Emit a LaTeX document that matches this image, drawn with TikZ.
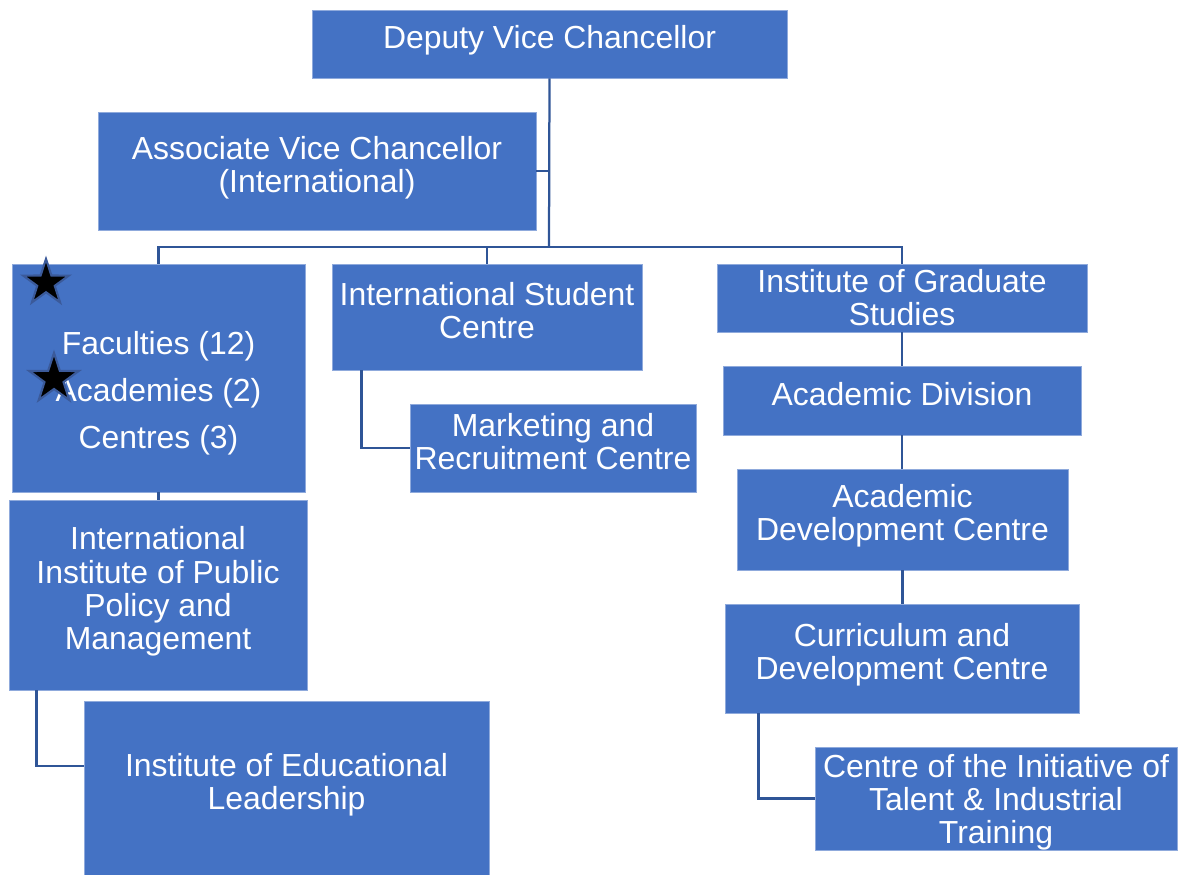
\documentclass[tikz,border=0pt]{standalone}
\usepackage{fontspec}
\setmainfont{Liberation Sans}
\usetikzlibrary{shapes.geometric}

\definecolor{unitblue}{HTML}{4472C4}
\definecolor{unitrim}{HTML}{8FAADC}
\definecolor{linkblue}{HTML}{2F5597}
\definecolor{starrim}{HTML}{3B5A9A}

\tikzset{
    unit/.style={rectangle, fill=unitblue, draw=unitrim, line width=0.6pt,
        text=white, align=center, inner sep=0pt, text depth=10pt,
        font=\fontsize{22.7}{23.5}\selectfont},
    link/.style={draw=linkblue, line width=1.6pt},
    starmark/.style={star, star points=5, star point ratio=2.6, fill=black,
        draw=starrim, line width=1.5pt, inner sep=0pt}
}

\begin{document}
\begin{tikzpicture}[x=0.025cm, y=-0.025cm]
    \useasboundingbox (0,0) rectangle (1192,875);

    \node [unit, minimum width=11.875cm, minimum height=1.7cm] (dvc) at (549.5,44) {Deputy Vice Chancellor};
    \node [unit, minimum width=10.95cm, minimum height=2.95cm] (avc) at (317,171) {Associate Vice Chancellor\\(International)};

    \node [unit, minimum width=7.325cm, minimum height=5.7cm, text depth=0pt,
        font=\fontsize{22.7}{33.4}\selectfont] (fac) at (158.5,378)
        {\mbox{}\\Faculties (12)\\Academies (2)\\Centres (3)};
    \node [unit, minimum width=7.45cm, minimum height=4.75cm] (iipp) at (158,595) {International\\Institute of Public\\Policy and\\Management};
    \node [unit, minimum width=10.125cm, minimum height=4.35cm] (iel) at (286.5,788) {Institute of Educational\\Leadership};

    \node [unit, minimum width=7.75cm, minimum height=2.65cm] (isc) at (487,317) {International Student\\Centre};
    \node [unit, minimum width=7.15cm, minimum height=2.2cm] (mrc) at (553,448) {Marketing and\\Recruitment Centre};

    \node [unit, minimum width=9.25cm, minimum height=1.7cm, text depth=] (igs) at (902,298) {Institute of Graduate\\Studies};
    \node [unit, minimum width=8.95cm, minimum height=1.725cm] (acd) at (902,400.5) {Academic Division};
    \node [unit, minimum width=8.275cm, minimum height=2.525cm] (adc) at (902.5,519.5) {Academic\\Development Centre};
    \node [unit, minimum width=8.85cm, minimum height=2.725cm] (cdc) at (902,658.5) {Curriculum and\\Development Centre};
    \node [unit, minimum width=9.05cm, minimum height=2.575cm, text depth=0pt] (cit) at (996,798.5) {Centre of the Initiative of\\Talent \& Industrial\\Training};

    \node [starmark, minimum size=1.2cm] (star1) at (46,283) {};
    \node [starmark, minimum size=1.3cm] (star2) at (54,379) {};

    \coordinate (bus) at (549,247);

    \draw [link] (dvc.south) -- (bus);
    \draw [link] (avc.east) -- (avc.east -| bus);
    \draw [link] (fac.north) |- (bus) -| (igs.north);
    \draw [link] (isc.north) -- (isc.north |- bus);

    \draw [link] (fac.south) -- (fac.south |- iipp.north);
    \draw [link] ([xshift=0.7cm]iipp.south west) |- ([yshift=0.55cm]iel.west);
    \draw [link] ([xshift=0.75cm]isc.south west) |- (mrc.west);

    \draw [link] (igs.south) -- (acd.north);
    \draw [link] (acd.south) -- (acd.south |- adc.north);
    \draw [link] (adc.south) -- (adc.south |- cdc.north);
    \draw [link] ([xshift=0.85cm]cdc.south west) |- (cit.west);
\end{tikzpicture}
\end{document}
